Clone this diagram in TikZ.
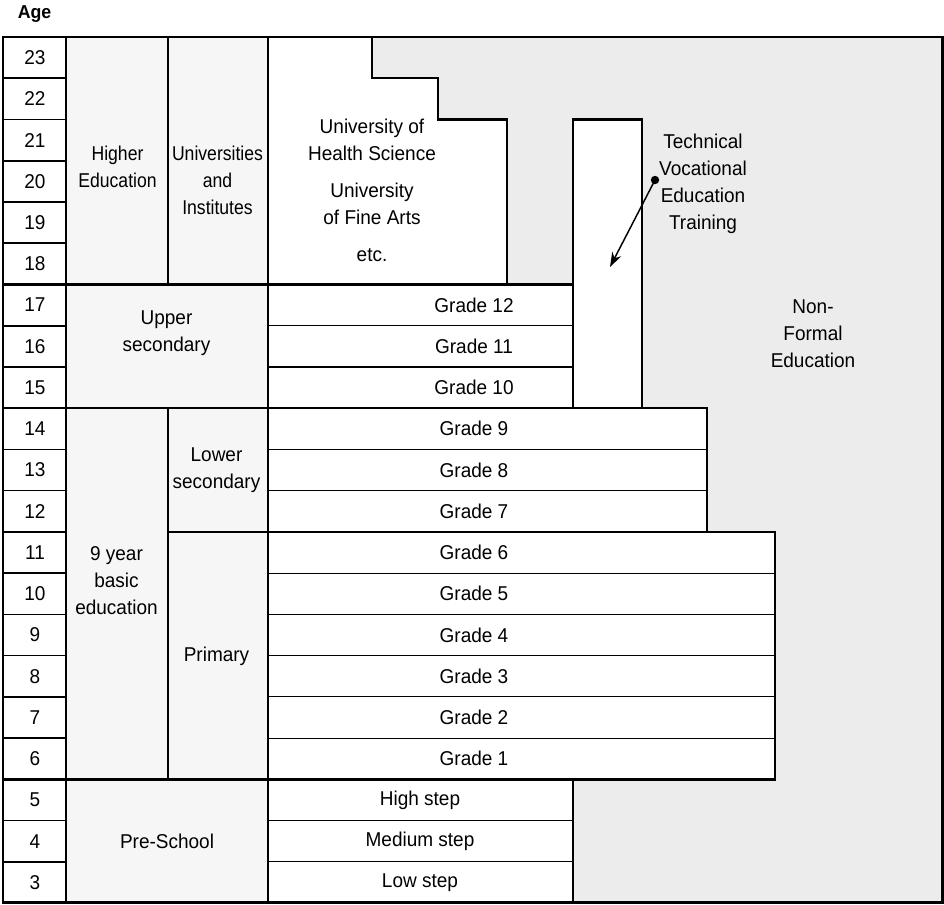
\documentclass[tikz,border=0pt]{standalone}
\usepackage{fontspec}
\setmainfont{Liberation Sans}[FakeStretch=0.95]
\newfontfamily\narrowfont{Liberation Sans}[FakeStretch=0.88]
\usetikzlibrary{arrows.meta}
\definecolor{nfgrey}{HTML}{ECECEC}
\definecolor{cellgrey}{HTML}{F6F6F6}
\begin{document}
\begin{tikzpicture}[x=0.75pt,y=-0.75pt,
  heavy/.style={line width=1.8pt, line join=miter},
  mid/.style={line width=1.3pt},
  fine/.style={line width=0.9pt},
  lbl/.style={font=\fontsize{15}{20.3}\selectfont, align=center, inner sep=0pt},
  narrowlbl/.style={lbl, font=\fontsize{15}{20.3}\selectfont\narrowfont},
  labelcell/.style={fill=cellgrey},
]
\useasboundingbox (0,0) rectangle (944,904);

% whole frame: non-formal education area
\fill[nfgrey] (3,37) rectangle (942.5,902.5);

% formal education area (white), outlined
\filldraw[fill=white, heavy]
  (3,37) -- (372,37) -- (372,78.2) -- (438,78.2) -- (438,119.5)
  -- (507,119.5) -- (507,284.4) -- (573,284.4) -- (573,119.5)
  -- (642,119.5) -- (642,408.2) -- (707,408.2) -- (707,531.9)
  -- (775,531.9) -- (775,779.3) -- (573,779.3) -- (573,902.5)
  -- (3,902.5) -- cycle;

% category cells
\fill[labelcell] (66,37) rectangle (268,284.4);
\fill[labelcell] (66,284.4) rectangle (268,408.2);
\fill[labelcell] (66,408.2) rectangle (268,779.3);
\fill[labelcell] (66,779.3) rectangle (268,902.5);

% age column dividers
\foreach \yy in {78.2,119.5,160.7,202.0,243.2,325.7,366.9,449.4,490.6,531.9,573.1,614.4,655.6,696.8,738.1,820.6,861.8}
  \draw[mid] (3,\yy) -- (66,\yy);

% grade and step dividers
\foreach \yy in {325.7,366.9,820.6,861.8}
  \draw[fine] (268,\yy) -- (573,\yy);
\foreach \yy in {449.4,490.6}
  \draw[fine] (268,\yy) -- (707,\yy);
\foreach \yy in {573.1,614.4,655.6,696.8,738.1}
  \draw[fine] (268,\yy) -- (775,\yy);

% main horizontal bands
\draw[heavy] (3,284.4) -- (573,284.4);
\draw[heavy] (3,408.2) -- (707,408.2);
\draw[mid] (168,531.9) -- (707,531.9);
\draw[heavy] (3,779.3) -- (775,779.3);

% vertical dividers
\draw[heavy] (66,37) -- (66,902.5);
\draw[mid] (168,37) -- (168,284.4);
\draw[mid] (168,408.2) -- (168,779.3);
\draw[mid] (268,37) -- (268,902.5);
\draw[mid] (573,284.4) -- (573,408.2);

% outer frame
\draw[heavy] (3,37) rectangle (942.5,902.5);

% heading
\node[anchor=center, inner sep=0pt, font=\fontsize{14}{16}\selectfont\bfseries] (agehead) at (34.5,14) {Age};

% ages
\foreach \a [count=\i from 0] in {23,22,21,20,19,18,17,16,15,14,13,12,11,10,9,8,7,6,5,4,3}
  \node[lbl] (age\a) at (35,{57.6+\i*41.238}) {\a};

% category labels
\node[narrowlbl] (higher) at (117.5,167) {Higher\\Education};
\node[narrowlbl] (univ) at (217.5,180.5) {Universities\\and\\Institutes};
\node[lbl] (uhs) at (372,140) {University of\\Health Science};
\node[lbl] (ufa) at (372,203.5) {University\\of Fine Arts};
\node[lbl] (etc) at (372,255) {etc.};
\node[lbl] (upper) at (166.5,333) {Upper\\secondary};
\node[lbl] (lower) at (216.5,470) {Lower\\secondary};
\node[lbl] (primary) at (216.5,656) {Primary};
\node[lbl] (basic) at (116.5,580.5) {9 year\\basic\\education};
\node[lbl] (pre) at (167,841) {Pre-School};

% grades
\foreach \g [count=\i from 6] in {12,11,10,9,8,7,6,5,4,3,2,1}
  \node[lbl] (grade\g) at (474,{57.6+\i*41.238}) {Grade \g};

% pre-school steps
\node[lbl] (high) at (420,800) {High step};
\node[lbl] (medium) at (420,841.2) {Medium step};
\node[lbl] (low) at (420,882.4) {Low step};

% TVET and non-formal
\node[lbl] (tvet) at (703,184) {Technical\\Vocational\\Education\\Training};
\node[lbl] (nfe) at (813,334) {Non-\\Formal\\Education};

\coordinate (dot) at (655,180);
\coordinate (tip) at (610,267);
\fill (dot) circle (4.2);
\draw[line width=1.1pt, -{Stealth[length=11pt,width=7.5pt]}] (dot) -- (tip);
\end{tikzpicture}
\end{document}
